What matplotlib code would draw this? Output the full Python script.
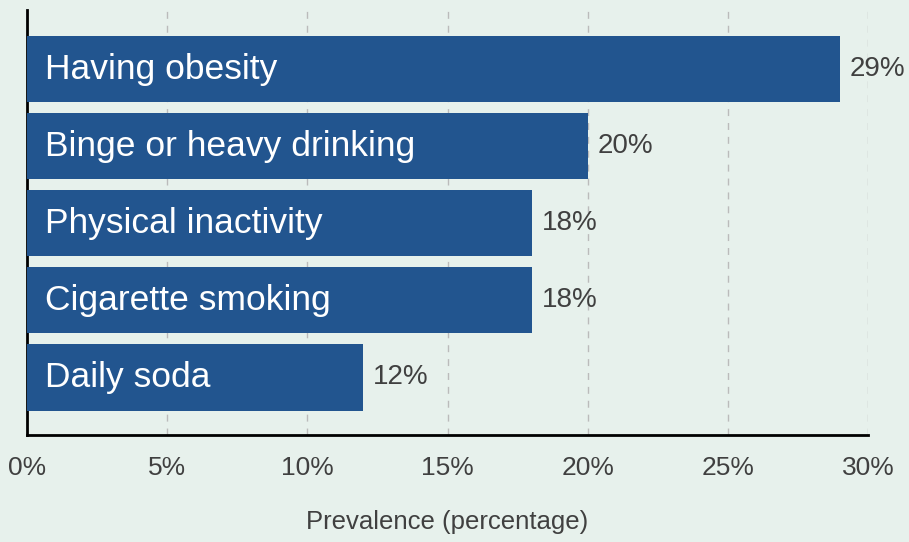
import matplotlib
matplotlib.use("Agg")
import matplotlib.pyplot as plt
from matplotlib import font_manager

names = {f.name for f in font_manager.fontManager.ttflist}
narrow = "Liberation Sans Narrow" if "Liberation Sans Narrow" in names else "Liberation Sans"
plt.rcParams['font.family'] = [narrow, 'DejaVu Sans']

categories = ["Having obesity", "Binge or heavy drinking", "Physical inactivity",
              "Cigarette smoking", "Daily soda"]
values = [29, 20, 18, 18, 12]
xticks = [0, 5, 10, 15, 20, 25, 30]
xtick_labels = ["0%", "5%", "10%", "15%", "20%", "25%", "30%"]

bg = "#e7f1ec"
bar_color = "#22558f"
text_color = "#404040"

fig = plt.figure(figsize=(9.09, 5.42), dpi=100, facecolor=bg)
ax = fig.add_axes([27 / 909, 1 - 435 / 542, (868 - 27) / 909, (435 - 10) / 542])
ax.set_facecolor(bg)

ypos = list(range(len(categories) - 1, -1, -1))
ax.barh(ypos, values, height=0.86, color=bar_color, zorder=3)

for y, v, c in zip(ypos, values, categories):
    ax.text(0.65, y, c, color="white", fontsize=25.5, va="center", ha="left", zorder=4)
    ax.text(v + 0.35, y, f"{v}%", color=text_color, fontsize=20, va="center", ha="left", zorder=4)

ax.set_xlim(0, 30)
ax.set_ylim(-0.747, 4.766)
ax.set_xticks(xticks)
ax.set_xticklabels(xtick_labels, fontsize=19, color=text_color)
ax.set_yticks([])
ax.tick_params(axis="x", length=0, pad=15)
ax.grid(axis="x", color="#bbbbbb", linestyle=(0, (5, 5)), linewidth=1, zorder=0)

for s in ["top", "right"]:
    ax.spines[s].set_visible(False)
ax.spines["left"].set_linewidth(2)
ax.spines["bottom"].set_linewidth(2)

ax.set_xlabel("Prevalence (percentage)", fontsize=18.5, color=text_color, labelpad=22)

fig.savefig("out.png", dpi=100, facecolor=bg)
